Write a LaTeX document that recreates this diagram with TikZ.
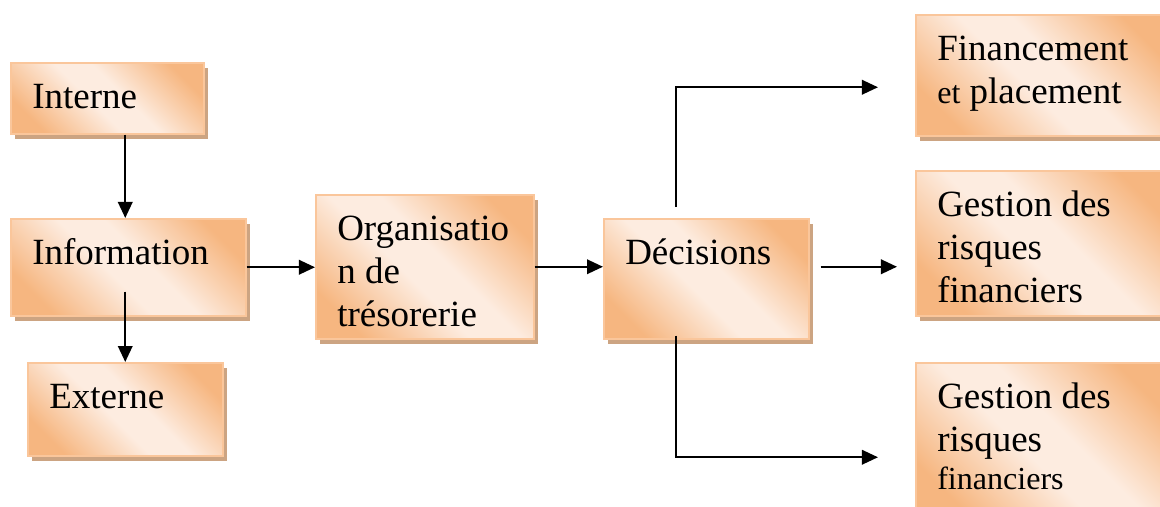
\documentclass[tikz,border=0pt]{standalone}
\usepackage{fontspec}
\setmainfont{Liberation Serif}
\usetikzlibrary{arrows.meta, shadows, calc}
\newlength\pix
\setlength\pix{0.025cm}
\definecolor{orangec}{RGB}{246,182,128}
\definecolor{clair}{RGB}{253,236,224}
\definecolor{bord}{RGB}{250,198,155}
\definecolor{ombre}{RGB}{204,164,130}
\pgfdeclareverticalshading{degrade}{100bp}{color(0bp)=(orangec); color(24bp)=(orangec); color(45bp)=(clair); color(55bp)=(clair); color(76bp)=(orangec); color(100bp)=(orangec)}

\begin{document}
\begin{tikzpicture}[
    x=\pix, y=-\pix,
    boite/.style={rectangle, anchor=north west, draw=bord, line width=1.5\pix, shading=degrade, shading angle=-45, drop shadow={shadow xshift=4\pix, shadow yshift=-5\pix, fill=ombre, opacity=1}},
    texte/.style={anchor=base west, inner sep=0pt, font=\fontsize{26.3}{30.6}\selectfont},
    fleche/.style={-{Triangle[length=0.4cm, width=0.36cm]}, line width=0.055cm}
]
\useasboundingbox (0,0) rectangle (1160,507);

% Boites
\node[boite, minimum width=193\pix, minimum height=71\pix] (interne) at (10,62) {};
\node[boite, minimum width=235\pix, minimum height=97\pix] (info) at (10,218) {};
\node[boite, minimum width=195\pix, minimum height=93\pix] (externe) at (27,362) {};
\node[boite, minimum width=218\pix, minimum height=144\pix] (orga) at (315,194) {};
\node[boite, minimum width=205\pix, minimum height=120\pix] (dec) at (603,218) {};
\node[boite, minimum width=255\pix, minimum height=121\pix] (fin) at (915,14) {};
\node[boite, minimum width=255\pix, minimum height=145\pix] (ges1) at (915,170) {};
\node[boite, minimum width=255\pix, minimum height=155\pix] (ges2) at (915,362) {};

% Textes
\node[texte] (t-interne) at ($(interne.north west)+(22,46)$) {\parbox[t]{6cm}{Interne}};
\node[texte] (t-info) at ($(info.north west)+(22,46)$) {\parbox[t]{6cm}{Information}};
\node[texte] (t-externe) at ($(externe.north west)+(22,46)$) {\parbox[t]{6cm}{Externe}};
\node[texte] (t-orga) at ($(orga.north west)+(22,46)$) {\parbox[t]{6cm}{Organisatio\\n de\\trésorerie}};
\node[texte] (t-dec) at ($(dec.north west)+(22,46)$) {\parbox[t]{6cm}{Décisions}};
\node[texte] (t-fin) at ($(fin.north west)+(22,46)$) {\parbox[t]{6cm}{Financement\\{\fontsize{22.8}{30.6}\selectfont et} placement}};
\node[texte] (t-ges1) at ($(ges1.north west)+(22,46)$) {\parbox[t]{6cm}{Gestion des\\risques\\financiers}};
\node[texte] (t-ges2) at ($(ges2.north west)+(22,46)$) {\parbox[t]{6cm}{Gestion des\\risques\\[-3pt]{\fontsize{22.8}{27}\selectfont financiers}}};

% Fleches
\draw[fleche] (interne.south -| externe.north) -- (info.north -| externe.north);
\draw[fleche] ($(info.south -| externe.north)+(0,-25)$) -- (externe.north);
\draw[fleche] (info.east) -- (info.east -| orga.west);
\draw[fleche] (orga.east) -- (orga.east -| dec.west);
\draw[fleche, shorten <=0.275cm, shorten >=0.45cm] (dec.east |- orga.east) -- (ges1.west |- orga.east);
\draw[fleche, shorten <=0.275cm, shorten >=0.925cm] ([xshift=1.825cm]dec.north west) |- ([yshift=-0.3cm]fin.west);
\draw[fleche, shorten <=-0.1cm, shorten >=0.925cm] ([xshift=1.825cm]dec.south west) |- ([yshift=-0.425cm]ges2.west);

\end{tikzpicture}
\end{document}
